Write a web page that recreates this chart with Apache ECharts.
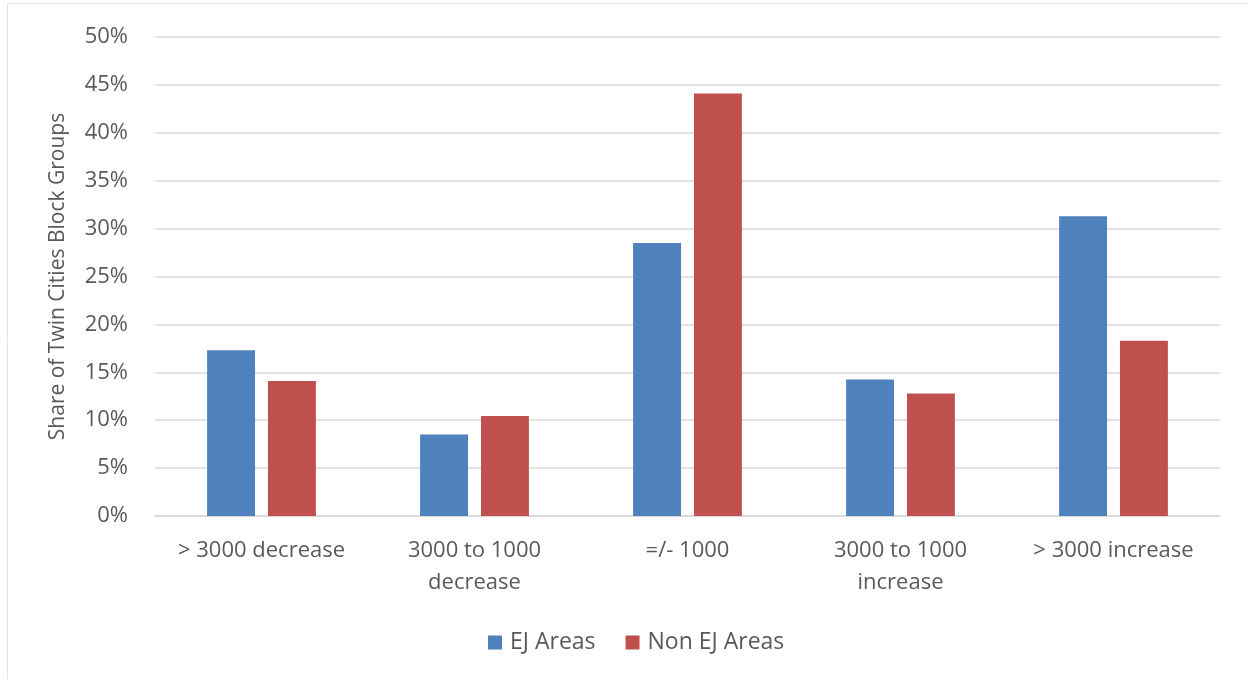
<!DOCTYPE html>
<html>
<head>
<meta charset="utf-8">
<script src="https://cdn.jsdelivr.net/npm/echarts@6/dist/echarts.min.js"></script>
<style>
  html, body { margin: 0; padding: 0; background: #fff; }
  #chart { width: 1249px; height: 679px; }
</style>
</head>
<body>
<div id="chart"></div>
<script>
// Population change categories
const categories = ['> 3000 decrease', '3000 to 1000\ndecrease', '=/- 1000', '3000 to 1000\nincrease', '> 3000 increase'];
// Share of block groups (%) per category
const ejAreas = [17.3, 8.5, 28.5, 14.25, 31.3];
const nonEjAreas = [14.1, 10.45, 44.1, 12.8, 18.3];
const seriesNames = ['EJ Areas', 'Non EJ Areas'];
const yAxisTitle = 'Share of Twin Cities Block Groups';

const font = '"Open Sans", "Liberation Sans", sans-serif';
const textColor = '#595959';

const chart = echarts.init(document.getElementById('chart'));
chart.setOption({
  animation: false,
  backgroundColor: '#fff',
  textStyle: { fontFamily: font },
  graphic: [{
    type: 'rect',
    shape: { x: 7.5, y: 3.5, width: 1260, height: 700 },
    style: { fill: 'none', stroke: '#e3e3e3', lineWidth: 1 },
    silent: true
  }],
  grid: { left: 155, right: 29, top: 37, bottom: 163 },
  legend: {
    data: seriesNames,
    bottom: 20,
    left: 483,
    itemWidth: 14,
    itemHeight: 14,
    itemGap: 30,
    icon: 'rect',
    textStyle: { color: textColor, fontSize: 23, fontFamily: font, padding: [0, 0, 0, 3] }
  },
  xAxis: {
    type: 'category',
    data: categories,
    axisLine: { lineStyle: { color: '#d9d9d9', width: 1.5 } },
    axisTick: { show: false },
    axisLabel: { color: textColor, fontSize: 22, lineHeight: 32, margin: 19, interval: 0, fontFamily: font }
  },
  yAxis: {
    type: 'value',
    min: 0,
    max: 50,
    interval: 5,
    name: yAxisTitle,
    nameLocation: 'middle',
    nameGap: 86,
    nameTextStyle: { color: textColor, fontSize: 21, fontFamily: font },
    axisLine: { show: false },
    axisTick: { show: false },
    axisLabel: { color: textColor, fontSize: 22, margin: 27, formatter: '{value}%', fontFamily: font },
    splitLine: { lineStyle: { color: '#d9d9d9', width: 1.5 } }
  },
  series: [
    {
      name: seriesNames[0],
      type: 'bar',
      data: ejAreas,
      barWidth: '22.5%',
      barGap: '27%',
      itemStyle: { color: '#4F81BD' }
    },
    {
      name: seriesNames[1],
      type: 'bar',
      data: nonEjAreas,
      barWidth: '22.5%',
      itemStyle: { color: '#C0504D' }
    }
  ]
});
</script>
</body>
</html>
